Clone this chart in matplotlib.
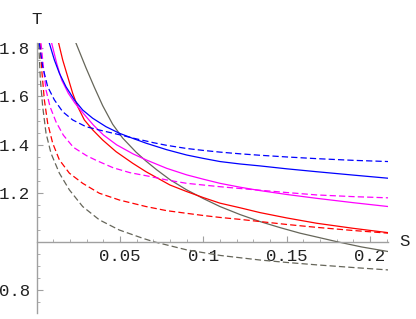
import matplotlib
matplotlib.use("Agg")
import matplotlib.pyplot as plt
from matplotlib.ticker import MultipleLocator, FixedLocator

# values (S, T)
gray_s = [0.0236, 0.0296, 0.0346, 0.0396, 0.0456, 0.0516, 0.0596, 0.0656, 0.072, 0.080, 0.090,
          0.100, 0.110, 0.122, 0.134, 0.146, 0.158, 0.170, 0.180, 0.195, 0.211]
gray_t = [1.820, 1.718, 1.638, 1.562, 1.485, 1.428, 1.370, 1.333, 1.297, 1.256, 1.214,
          1.178, 1.145, 1.112, 1.083, 1.058, 1.035, 1.016, 1.000, 0.978, 0.959]

gray_d_s = [0.0012, 0.0022, 0.0036, 0.0056, 0.0086, 0.0136, 0.0196, 0.0276, 0.0376, 0.0496,
            0.0636, 0.070, 0.090, 0.110, 0.134, 0.150, 0.168, 0.190, 0.211]
gray_d_t = [1.820, 1.670, 1.558, 1.448, 1.365, 1.283, 1.214, 1.145, 1.090, 1.048,
            1.014, 1.000, 0.966, 0.943, 0.924, 0.914, 0.904, 0.893, 0.883]

red_s = [0.0132, 0.0156, 0.0186, 0.0216, 0.0246, 0.0286, 0.0336, 0.0396, 0.0476, 0.0576, 0.0656,
         0.080, 0.090, 0.100, 0.110, 0.122, 0.134, 0.150, 0.168, 0.190, 0.211]
red_t = [1.820, 1.751, 1.682, 1.613, 1.558, 1.503, 1.462, 1.420, 1.372, 1.324, 1.289,
         1.234, 1.207, 1.182, 1.159, 1.140, 1.120, 1.098, 1.076, 1.055, 1.037]

red_d_s = [0.0020, 0.0032, 0.0046, 0.0066, 0.0096, 0.0136, 0.0196, 0.0276, 0.0376, 0.0496, 0.0656,
           0.078, 0.090, 0.100, 0.110, 0.122, 0.134, 0.150, 0.168, 0.190, 0.211]
red_d_t = [1.820, 1.696, 1.586, 1.489, 1.407, 1.338, 1.283, 1.241, 1.200, 1.172, 1.145,
           1.128, 1.117, 1.108, 1.100, 1.092, 1.083, 1.071, 1.059, 1.046, 1.035]

mag_s = [0.0090, 0.0120, 0.0150, 0.0190, 0.0230, 0.0280, 0.0340, 0.0400, 0.0480, 0.0580, 0.0660,
         0.078, 0.090, 0.100, 0.110, 0.122, 0.134, 0.150, 0.168, 0.190, 0.211]
mag_t = [1.820, 1.737, 1.668, 1.613, 1.572, 1.530, 1.482, 1.441, 1.400, 1.362, 1.337,
         1.303, 1.276, 1.258, 1.241, 1.225, 1.211, 1.195, 1.179, 1.161, 1.145]

mag_d_s = [0.0026, 0.0040, 0.0056, 0.0080, 0.0116, 0.016, 0.022, 0.030, 0.036, 0.046, 0.056,
           0.066, 0.078, 0.090, 0.110, 0.128, 0.150, 0.168, 0.190, 0.211]
mag_d_t = [1.820, 1.723, 1.627, 1.558, 1.495, 1.440, 1.390, 1.355, 1.335, 1.305, 1.285,
           1.272, 1.255, 1.241, 1.227, 1.216, 1.203, 1.193, 1.186, 1.181]

blue_s = [0.0076, 0.0106, 0.0136, 0.0176, 0.0226, 0.0276, 0.0336, 0.0416, 0.0496, 0.0576, 0.0656,
          0.078, 0.090, 0.100, 0.110, 0.122, 0.134, 0.150, 0.168, 0.190, 0.211]
blue_t = [1.820, 1.751, 1.696, 1.640, 1.586, 1.544, 1.510, 1.475, 1.448, 1.427, 1.407,
          1.380, 1.358, 1.344, 1.331, 1.321, 1.313, 1.301, 1.289, 1.275, 1.262]

blue_d_s = [0.0016, 0.0036, 0.0066, 0.0106, 0.0156, 0.0216, 0.0296, 0.0396, 0.0496, 0.0596, 0.0656,
            0.070, 0.078, 0.090, 0.100, 0.110, 0.122, 0.134, 0.150, 0.168, 0.190, 0.211]
blue_d_t = [1.820, 1.723, 1.640, 1.586, 1.537, 1.503, 1.475, 1.458, 1.442, 1.425, 1.416,
            1.409, 1.398, 1.385, 1.377, 1.370, 1.363, 1.357, 1.350, 1.343, 1.336, 1.331]

x_ticks = [0.05, 0.1, 0.15, 0.2]
x_labels = ["0.05", "0.1", "0.15", "0.2"]
y_ticks = [0.8, 1.2, 1.4, 1.6, 1.8]
y_labels = ["0.8", "1.2", "1.4", "1.6", "1.8"]

GRAY = "#66665a"
dash = (5, 2.5)

fig = plt.figure(figsize=(4.16, 3.19), dpi=100)
ax = fig.add_axes([0.0882, 0.0188, 0.8452, 0.8464])

lw = 0.9
ax.plot(gray_s, gray_t, color=GRAY, lw=lw)
ax.plot(gray_d_s, gray_d_t, color=GRAY, lw=lw, dashes=dash)
ax.plot(red_s, red_t, color="red", lw=lw)
ax.plot(red_d_s, red_d_t, color="red", lw=lw, dashes=dash)
ax.plot(mag_s, mag_t, color="magenta", lw=lw)
ax.plot(mag_d_s, mag_d_t, color="magenta", lw=lw, dashes=dash)
ax.plot(blue_s, blue_t, color="blue", lw=lw)
ax.plot(blue_d_s, blue_d_t, color="blue", lw=lw, dashes=dash)

ax.set_xlim(0, 0.211)
ax.set_ylim(0.705, 1.821)

for side in ["top", "right"]:
    ax.spines[side].set_visible(False)
ax.spines["left"].set_position(("data", 0))
ax.spines["bottom"].set_position(("data", 1.0))
for side in ["left", "bottom"]:
    ax.spines[side].set_color("#a0a0a0")
    ax.spines[side].set_linewidth(1.0)

ax.xaxis.set_major_locator(FixedLocator(x_ticks))
ax.set_xticklabels(x_labels)
ax.xaxis.set_minor_locator(MultipleLocator(0.01))
ax.yaxis.set_major_locator(FixedLocator(y_ticks))
ax.set_yticklabels(y_labels)
ax.yaxis.set_minor_locator(MultipleLocator(0.05))

ax.tick_params(which="major", direction="in", length=4, width=0.8, color="#a0a0a0",
               labelsize=12.5, pad=5)
ax.tick_params(which="minor", direction="in", length=2.5, width=0.6, color="#a0a0a0")
for lab in ax.get_xticklabels() + ax.get_yticklabels():
    lab.set_family("Liberation Mono")
    lab.set_color("#222222")

ax.patch.set_alpha(0)
fig.text(36.7 / 416, 1 - 19 / 319, "T", family="Liberation Mono", fontsize=12.5,
         ha="center", va="center", color="#222222")
fig.text(405 / 416, 1 - 242 / 319, "S", family="Liberation Mono", fontsize=12.5,
         ha="center", va="center", color="#222222")

fig.savefig("out.png", dpi=100)
